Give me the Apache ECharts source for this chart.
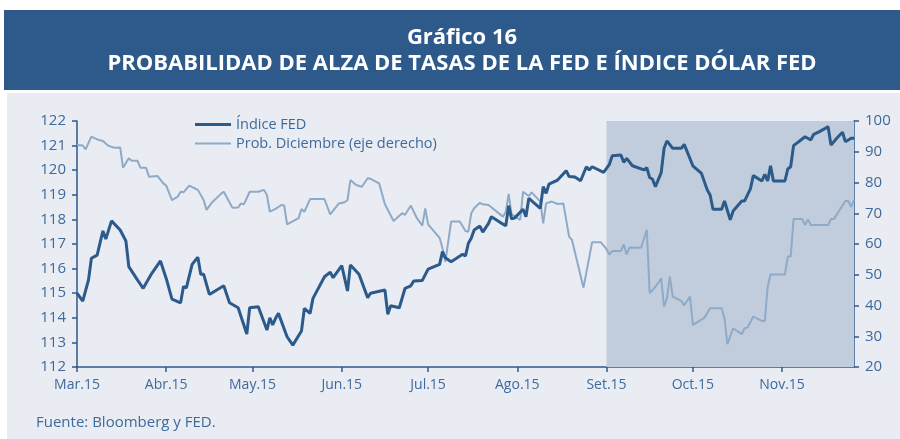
<!DOCTYPE html>
<html>
<head>
<meta charset="utf-8">
<script src="https://cdn.jsdelivr.net/npm/echarts@6/dist/echarts.min.js"></script>
<style>
html,body{margin:0;padding:0;background:#fff;}
#c{width:900px;height:439px;}
</style>
</head>
<body>
<div id="c"></div>
<script>
// Month tick labels (first day of each month, 2015)
var tickLabels = ['Mar.15','Abr.15','May.15','Jun.15','Jul.15','Ago.15','Set.15','Oct.15','Nov.15'];
var startDate = '2015-03-01';
var endDate = '2015-11-26';

// Índice FED (left axis): day offset from 1 Mar 2015, value
var fedDay = [0,2,4,5,7,9,10,12,15,17,18,21,23,26,29,31,33,36,37,38,40,42,43,44,46,51,53,56,59,60,63,66,67,68,69,70,73,75,78,79,81,82,86,88,89,92,94,95,98,101,102,107,108,109,112,114,116,117,120,122,126,127,128,130,134,135,136,137,138,140,141,143,144,147,149,150,151,152,155,156,157,159,161,162,163,164,167,170,171,173,175,177,178,179,183,185,186,189,190,191,193,197,198,199,200,201,203,204,205,207,210,211,214,217,219,220,221,224,225,227,228,231,232,234,235,238,239,240,241,242,246,247,248,249,252,253,255,256,258,260,261,262,264,266,267,269,270];
var fedValue = [115.0,114.68,115.54,116.42,116.55,117.53,117.2,117.94,117.57,117.12,116.08,115.54,115.2,115.81,116.31,115.6,114.76,114.61,115.27,115.22,116.17,116.46,115.77,115.77,114.95,115.3,114.61,114.41,113.34,114.41,114.45,113.5,114.0,113.71,113.98,114.18,113.23,112.89,113.46,114.38,114.18,114.79,115.67,115.85,115.63,116.12,115.09,116.15,115.77,114.82,115.0,115.13,114.14,114.49,114.41,115.2,115.3,115.5,115.52,115.98,116.17,116.69,116.44,116.28,116.58,116.52,117.03,117.23,117.57,117.73,117.48,117.84,118.11,117.88,117.74,118.56,118.02,118.05,118.41,118.11,118.86,118.65,118.45,119.33,119.06,119.43,119.6,119.98,119.74,119.72,119.57,120.14,120.01,120.14,119.91,120.24,120.59,120.62,120.32,120.48,120.18,120.01,120.1,119.7,119.63,119.33,119.9,120.89,121.19,120.89,120.89,121.05,120.18,119.87,119.2,118.99,118.41,118.41,118.75,117.98,118.34,118.75,118.75,119.24,119.78,119.56,119.83,119.56,120.18,119.56,119.56,120.05,120.14,121.0,121.27,121.36,121.23,121.46,121.57,121.7,121.77,121.02,121.3,121.54,121.16,121.3,121.3];

// Prob. Diciembre (right axis): day offset from 1 Mar 2015, value (%)
var probDay = [0,2,3,5,7,9,11,13,15,16,18,19,21,22,24,25,28,30,31,33,35,36,37,39,42,44,45,47,50,51,54,56,57,58,60,63,65,66,67,69,71,72,73,77,78,79,81,86,88,91,93,94,95,97,99,101,102,105,107,110,113,114,116,118,120,121,122,126,127,128,130,133,135,136,137,138,140,141,143,148,149,150,151,154,155,157,158,161,162,163,165,167,169,171,172,176,179,182,184,185,186,189,190,191,192,196,198,199,201,203,204,205,206,207,210,211,213,214,218,220,224,225,226,228,231,232,233,235,238,239,240,241,246,247,248,249,252,253,254,255,261,262,263,267,268,269,270];
var probValue = [92.2,92.0,90.8,94.9,94.0,93.5,91.9,91.3,91.4,84.8,87.9,87.1,87.1,84.8,84.8,81.9,82.1,79.7,79.0,74.3,75.4,77.0,76.8,79.0,77.6,74.3,71.1,73.6,76.3,77.0,71.8,71.9,73.2,72.9,77.0,77.0,77.6,75.9,70.5,71.4,72.7,72.5,66.4,68.4,71.4,70.5,74.6,74.6,69.6,73.2,73.6,74.3,80.8,79.2,78.6,81.4,81.2,79.7,72.9,67.5,70.0,69.5,72.5,68.6,66.0,71.6,66.4,62.0,58.6,54.2,67.3,67.3,64.2,64.0,70.0,71.6,73.4,72.9,72.7,68.9,70.5,76.3,69.7,67.8,77.0,75.6,76.8,73.8,66.7,73.2,73.8,73.0,73.2,62.4,61.3,45.8,60.6,60.6,58.3,56.6,57.7,57.7,59.9,56.6,58.9,58.8,64.6,44.0,46.1,48.8,39.6,42.3,49.4,42.9,41.5,40.0,42.9,33.7,36.0,39.1,39.1,35.8,27.4,32.6,30.7,32.6,32.8,36.4,35.0,35.0,46.1,50.1,50.1,55.9,55.9,68.1,68.1,66.2,68.0,66.2,66.2,68.1,68.1,74.0,74.0,72.1,74.3];

// Shaded period (from Set.15 to the end)
var shadeStart = '2015-09-01';

// Build daily categories
function fmt(d){
  var m = d.getUTCMonth()+1, dd = d.getUTCDate();
  return d.getUTCFullYear()+'-'+(m<10?'0':'')+m+'-'+(dd<10?'0':'')+dd;
}
var categories = [];
var d0 = new Date(startDate+'T00:00:00Z');
var dEnd = new Date(endDate+'T00:00:00Z');
for (var t = d0.getTime(); t <= dEnd.getTime(); t += 86400000) categories.push(fmt(new Date(t)));
var monthStart = {};
categories.forEach(function(c,i){ if (c.slice(8)==='01') monthStart[i] = true; });
function labelFor(c){
  var m = parseInt(c.slice(5,7),10);
  return tickLabels[m-3] || '';
}
var fedData = fedDay.map(function(d,i){ return [d, fedValue[i]]; });
var probData = probDay.map(function(d,i){ return [d, probValue[i]]; });
var shadeIdx = categories.indexOf(shadeStart);

var axisColor = '#2E5A8A';
var textColor = '#3E6A9C';
var font = 'Open Sans';

var chart = echarts.init(document.getElementById('c'), null, {renderer:'canvas'});
chart.setOption({
  animation: false,
  backgroundColor: '#ffffff',
  graphic: [
    {type:'rect', shape:{x:7,y:93,width:893,height:346}, style:{fill:'#E9ECF2'}, z:-10, silent:true},
    {type:'rect', shape:{x:4,y:10,width:896,height:80}, style:{fill:'#2D5A8A'}, z:-10, silent:true},
    {type:'text', x:462, y:38, silent:true, z:10,
     style:{text:'Gráfico 16', fill:'#ffffff', fontFamily:font, fontWeight:'bold', fontSize:22, align:'center', verticalAlign:'middle'}},
    {type:'text', x:462, y:64, silent:true, z:10,
     style:{text:'PROBABILIDAD DE ALZA DE TASAS DE LA FED E ÍNDICE DÓLAR FED', fill:'#ffffff', fontFamily:font, fontWeight:'bold', fontSize:22, align:'center', verticalAlign:'middle'}}
  ],
  title: [
    {text:'Fuente: Bloomberg y FED.', left:36, top:415, padding:0, textStyle:{color:textColor, fontFamily:font, fontWeight:'normal', fontSize:15}}
  ],
  legend: [
    {data:['Índice FED'], left:195, top:117, padding:0, icon:'rect', itemWidth:36, itemHeight:3, itemGap:0,
     textStyle:{color:textColor, fontFamily:font, fontSize:14.5}},
    {data:['Prob. Diciembre (eje derecho)'], left:195, top:136, padding:0, icon:'rect', itemWidth:36, itemHeight:2,
     textStyle:{color:textColor, fontFamily:font, fontSize:14.5}}
  ],
  grid: {left:77, right:46, top:121, bottom:72, containLabel:false},
  xAxis: {
    type:'category', data:categories, boundaryGap:false,
    axisLine:{lineStyle:{color:axisColor, width:1.5}},
    axisTick:{show:true, length:5, inside:false, interval:function(i){return !!monthStart[i];}, lineStyle:{color:axisColor, width:1.5}},
    axisLabel:{interval:function(i){return !!monthStart[i];}, formatter:function(v){return labelFor(v);}, color:textColor, fontFamily:font, fontSize:14, margin:11},
    splitLine:{show:false}
  },
  yAxis: [
    {type:'value', min:112, max:122, interval:1, position:'left',
     axisLine:{show:true, lineStyle:{color:axisColor, width:1.5}},
     axisTick:{show:true, length:5, lineStyle:{color:axisColor, width:1.5}},
     axisLabel:{color:textColor, fontFamily:font, fontSize:15, margin:11},
     splitLine:{show:false}},
    {type:'value', min:20, max:100, interval:10, position:'right',
     axisLine:{show:true, lineStyle:{color:axisColor, width:1.5}},
     axisTick:{show:true, length:5, lineStyle:{color:axisColor, width:1.5}},
     axisLabel:{color:textColor, fontFamily:font, fontSize:15, margin:11},
     splitLine:{show:false}}
  ],
  series: [
    {name:'shade', type:'line', data:[], z:1, silent:true,
     markArea:{silent:true, itemStyle:{color:'#C1CDDC'}, data:[[{xAxis:shadeIdx},{xAxis:categories.length-1}]]}},
    {name:'Prob. Diciembre (eje derecho)', type:'line', yAxisIndex:1, data:probData, showSymbol:false, symbol:'none', z:3,
     lineStyle:{color:'#8EAAC7', width:2}, itemStyle:{color:'#8EAAC7'}},
    {name:'Índice FED', type:'line', yAxisIndex:0, data:fedData, showSymbol:false, symbol:'none', z:4,
     lineStyle:{color:'#2B5A8B', width:3}, itemStyle:{color:'#2B5A8B'}}
  ]
});
</script>
</body>
</html>
